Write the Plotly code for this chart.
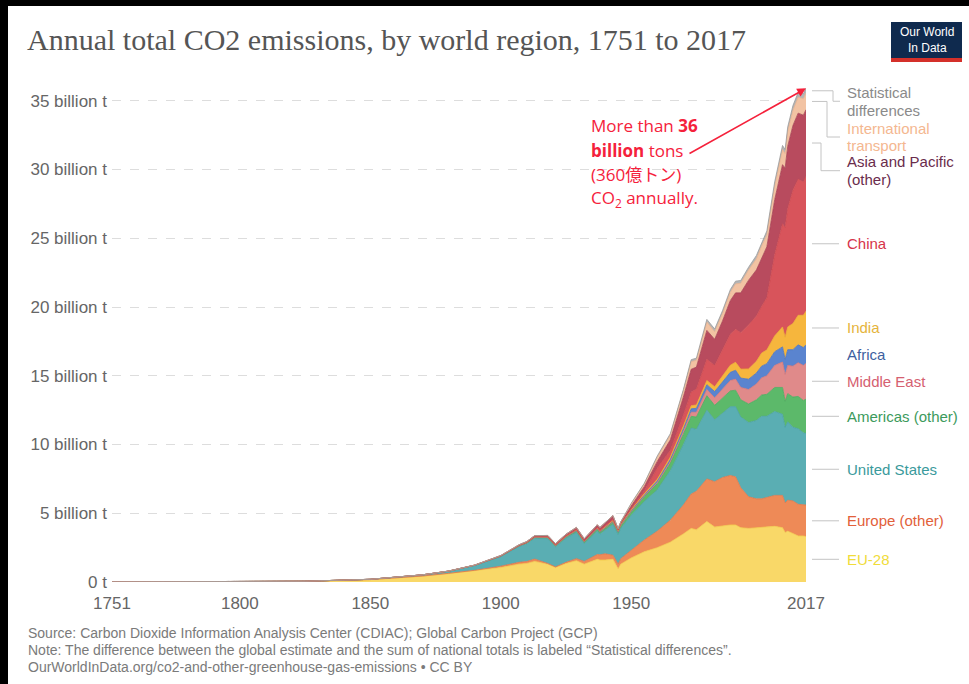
import plotly.graph_objects as go

# ---- data (billion tonnes CO2 per year) ----
YEARS = [1751, 1775, 1800, 1825, 1850, 1860, 1870, 1880, 1890, 1900,
         1907, 1910, 1913, 1918, 1921, 1925, 1929, 1932, 1937, 1938,
         1940, 1943, 1945, 1946, 1950, 1955, 1960, 1965, 1970, 1973,
         1975, 1979, 1982, 1985, 1988, 1990, 1992, 1995, 1998, 2000,
         2002, 2005, 2008, 2009, 2010, 2012, 2014, 2016, 2017]

EU28 = [0.009, 0.015, 0.028, 0.05, 0.17, 0.28, 0.42, 0.6, 0.8, 1.05,
        1.3, 1.35, 1.5, 1.3, 1.05, 1.35, 1.55, 1.3, 1.65, 1.6,
        1.6, 1.65, 0.95, 1.3, 1.75, 2.2, 2.5, 2.9, 3.5, 3.9,
        3.8, 4.4, 4.0, 4.1, 4.15, 4.15, 3.95, 3.9, 3.95, 3.95,
        4.0, 4.05, 3.95, 3.6, 3.7, 3.55, 3.35, 3.35, 3.3]
EUROPE_OTHER = [0.0, 0.0005, 0.001, 0.002, 0.005, 0.01, 0.015, 0.03, 0.05, 0.1,
                0.13, 0.14, 0.17, 0.05, 0.05, 0.08, 0.15, 0.2, 0.35, 0.38,
                0.45, 0.3, 0.35, 0.4, 0.55, 0.85, 1.2, 1.6, 2.1, 2.5,
                2.8, 3.1, 3.3, 3.5, 3.6, 3.5, 2.9, 2.3, 2.1, 2.1,
                2.15, 2.25, 2.35, 2.15, 2.25, 2.35, 2.3, 2.3, 2.3]
UNITED_STATES = [0.0, 0.0003, 0.001, 0.003, 0.02, 0.04, 0.08, 0.15, 0.35, 0.7,
                 1.15, 1.3, 1.5, 1.8, 1.45, 1.75, 1.9, 1.3, 1.7, 1.5,
                 1.7, 2.25, 2.15, 2.2, 2.55, 2.8, 3.0, 3.6, 4.4, 4.8,
                 4.5, 5.0, 4.5, 4.7, 5.0, 5.1, 5.15, 5.4, 5.7, 6.0,
                 5.9, 6.1, 5.9, 5.5, 5.7, 5.35, 5.5, 5.2, 5.2]
AMERICAS_OTHER = [0, 0, 0, 0, 0.001, 0.002, 0.004, 0.008, 0.015, 0.03,
                  0.05, 0.06, 0.08, 0.08, 0.08, 0.1, 0.13, 0.11, 0.15, 0.15,
                  0.16, 0.17, 0.18, 0.2, 0.25, 0.35, 0.45, 0.55, 0.75, 0.85,
                  0.9, 1.05, 1.05, 1.05, 1.15, 1.2, 1.25, 1.35, 1.5, 1.55,
                  1.6, 1.75, 1.95, 1.9, 2.05, 2.2, 2.35, 2.35, 2.5]
MIDDLE_EAST = [0, 0, 0, 0, 0, 0, 0, 0, 0, 0.0005,
               0.001, 0.001, 0.001, 0.001, 0.001, 0.002, 0.003, 0.003, 0.005, 0.005,
               0.006, 0.007, 0.01, 0.012, 0.03, 0.05, 0.08, 0.12, 0.2, 0.3,
               0.35, 0.45, 0.55, 0.65, 0.75, 0.8, 0.9, 1.05, 1.15, 1.25,
               1.35, 1.6, 1.85, 1.95, 2.05, 2.25, 2.45, 2.55, 2.6]
AFRICA = [0, 0, 0, 0, 0, 0, 0, 0.001, 0.002, 0.005,
          0.008, 0.01, 0.012, 0.014, 0.015, 0.018, 0.02, 0.02, 0.028, 0.03,
          0.032, 0.036, 0.04, 0.042, 0.05, 0.07, 0.12, 0.15, 0.2, 0.25,
          0.28, 0.35, 0.45, 0.55, 0.6, 0.65, 0.68, 0.75, 0.8, 0.85,
          0.88, 1.0, 1.1, 1.1, 1.15, 1.2, 1.3, 1.3, 1.35]
INDIA = [0, 0, 0, 0, 0, 0, 0.001, 0.003, 0.006, 0.01,
         0.013, 0.015, 0.02, 0.025, 0.025, 0.03, 0.035, 0.035, 0.04, 0.04,
         0.045, 0.045, 0.05, 0.05, 0.065, 0.09, 0.12, 0.17, 0.2, 0.22,
         0.25, 0.3, 0.35, 0.43, 0.52, 0.58, 0.65, 0.75, 0.85, 0.95,
         1.0, 1.15, 1.45, 1.6, 1.65, 1.9, 2.15, 2.35, 2.45]
CHINA = [0, 0, 0, 0, 0, 0, 0, 0, 0, 0.001,
         0.005, 0.01, 0.01, 0.015, 0.02, 0.025, 0.03, 0.03, 0.04, 0.04,
         0.07, 0.09, 0.05, 0.05, 0.08, 0.2, 0.8, 0.5, 0.8, 1.0,
         1.15, 1.55, 1.55, 1.95, 2.25, 2.4, 2.65, 3.2, 3.3, 3.4,
         3.8, 5.9, 7.5, 8.0, 8.6, 9.7, 9.9, 9.7, 9.8]
ASIA_PACIFIC_OTHER = [0, 0, 0, 0, 0.001, 0.002, 0.003, 0.005, 0.01, 0.03,
                      0.05, 0.06, 0.08, 0.1, 0.1, 0.12, 0.15, 0.15, 0.2, 0.22,
                      0.25, 0.28, 0.1, 0.12, 0.2, 0.32, 0.5, 0.75, 1.3, 1.65,
                      1.6, 2.1, 1.9, 2.05, 2.45, 2.65, 2.9, 3.25, 3.35, 3.55,
                      3.7, 4.0, 4.3, 4.3, 4.55, 4.7, 4.8, 4.85, 4.85]
INTL_TRANSPORT = [0, 0, 0, 0, 0, 0, 0, 0, 0, 0,
                  0, 0, 0, 0, 0, 0, 0, 0, 0, 0,
                  0, 0, 0, 0, 0.15, 0.2, 0.3, 0.35, 0.45, 0.55,
                  0.5, 0.6, 0.55, 0.55, 0.6, 0.65, 0.7, 0.75, 0.8, 0.85,
                  0.85, 1.0, 1.1, 1.05, 1.1, 1.1, 1.15, 1.2, 1.2]
STAT_DIFF = [0, 0, 0, 0, 0, 0, 0, 0, 0, 0,
             0, 0, 0, 0, 0, 0, 0, 0, 0, 0,
             0, 0, 0, 0, 0.05, 0.05, 0.1, 0.1, 0.1, 0.15,
             0.15, 0.2, 0.2, 0.2, 0.2, 0.2, 0.2, 0.2, 0.25, 0.25,
             0.3, 0.3, 0.3, 0.3, 0.3, 0.35, 0.35, 0.35, 0.35]

Y_TICKS = [0, 5, 10, 15, 20, 25, 30, 35]
Y_TICK_LABELS = ["0 t", "5 billion t", "10 billion t", "15 billion t",
                 "20 billion t", "25 billion t", "30 billion t", "35 billion t"]
X_TICKS = [1751, 1800, 1850, 1900, 1950, 2017]

# series, bottom to top: (name, values, fill, line, label colour)
SERIES = [
    ("EU-28", EU28, "#f9d868", "#f3cc4a", "#f0dc3a"),
    ("Europe (other)", EUROPE_OTHER, "#ee8a57", "#e57444", "#e2603a"),
    ("United States", UNITED_STATES, "#5aaeb3", "#46a0a5", "#3a9a9c"),
    ("Americas (other)", AMERICAS_OTHER, "#5cb96a", "#48a85a", "#3c9a5c"),
    ("Middle East", MIDDLE_EAST, "#e08a8a", "#d57575", "#d56070"),
    ("Africa", AFRICA, "#5a84cf", "#4a72bd", "#3e5fa0"),
    ("India", INDIA, "#f6b63d", "#eba92c", "#e5b43c"),
    ("China", CHINA, "#d8545b", "#cc464d", "#d6344a"),
    ("Asia and Pacific (other)", ASIA_PACIFIC_OTHER, "#b84b5e", "#a43f52", "#6a2c4c"),
    ("International transport", INTL_TRANSPORT, "#f2c3a3", "#eab08c", "#f4b790"),
    ("Statistical differences", STAT_DIFF, "#b5b5b5", "#9a9a9a", "#8a8a8a"),
]

# ---- canvas geometry (pixels) ----
W, H = 969, 684
PL, PR, PT, PB = 112, 806, 87, 582
Y_MAX = 36
PX_PER_UNIT = (PB - PT) / Y_MAX


def px(x):
    return (x - PL) / (PR - PL)


def py(y):
    return (PB - y) / (PB - PT)


fig = go.Figure()
for name, vals, fill, line, _ in SERIES:
    fig.add_trace(go.Scatter(
        x=YEARS, y=vals, name=name, mode="lines", stackgroup="one",
        fillcolor=fill, line=dict(color=line, width=0.8),
        hoverinfo="x+y+name",
    ))

annotations = []
shapes = []

# right-hand series labels with leader lines
cum = 0.0
mids = {}
for name, vals, _, _, _ in SERIES:
    mids[name] = cum + vals[-1] / 2
    cum += vals[-1]
total_last = cum

# two-line labels pushed down to avoid overlap:
# (first line, second line, first-line centre in data units, elbow px)
NUDGED = {
    "Statistical differences": ("Statistical", "differences", 35.6, 833),
    "International transport": ("International", "transport", 33.0, 827),
    "Asia and Pacific (other)": ("Asia and Pacific", "(other)", 30.55, 821),
}
LINE_GAP = 17.5 / PX_PER_UNIT
LINE_COL = "#c4c4c4"
LABEL_FONT = "Liberation Sans, Arial, sans-serif"


def add_label(text, y, colour):
    annotations.append(dict(
        xref="paper", yref="y", x=px(845), y=y, text=text, showarrow=False,
        xanchor="left", yanchor="middle", align="left",
        font=dict(family=LABEL_FONT, size=15, color=colour),
    ))


for name, vals, _, _, tcol in SERIES:
    ym = mids[name]
    if name in NUDGED:
        l1, l2, yl, xe = NUDGED[name]
        yc = yl - LINE_GAP / 2
        shapes.append(dict(type="line", xref="paper", yref="y", x0=px(812), x1=px(xe), y0=ym, y1=ym,
                           line=dict(color=LINE_COL, width=1)))
        shapes.append(dict(type="line", xref="paper", yref="y", x0=px(xe), x1=px(xe), y0=ym, y1=yc,
                           line=dict(color=LINE_COL, width=1)))
        shapes.append(dict(type="line", xref="paper", yref="y", x0=px(xe), x1=px(840), y0=yc, y1=yc,
                           line=dict(color=LINE_COL, width=1)))
        add_label(l1, yl, tcol)
        add_label(l2, yl - LINE_GAP, tcol)
    else:
        if name != "Africa":
            shapes.append(dict(type="line", xref="paper", yref="y", x0=px(812), x1=px(839), y0=ym, y1=ym,
                               line=dict(color=LINE_COL, width=1)))
        add_label(name, ym, tcol)

# title
annotations.append(dict(
    xref="paper", yref="paper", x=px(25), y=py(39), xanchor="left", yanchor="middle",
    text="Annual total CO2 emissions, by world region, 1751 to 2017", showarrow=False,
    font=dict(family="Liberation Serif, DejaVu Serif, serif", size=30, color="#555555"),
))

# logo
shapes.append(dict(type="rect", xref="paper", yref="paper", x0=px(891), x1=px(962), y0=py(22), y1=py(62),
                   fillcolor="#0f2a4e", line=dict(width=0), layer="above"))
shapes.append(dict(type="rect", xref="paper", yref="paper", x0=px(891), x1=px(962), y0=py(58), y1=py(62),
                   fillcolor="#d4302a", line=dict(width=0), layer="above"))
annotations.append(dict(
    xref="paper", yref="paper", x=px(926.5), y=py(40), xanchor="center", yanchor="middle",
    text="Our World<br>In Data", showarrow=False,
    font=dict(family="Liberation Sans Narrow, Liberation Sans, Arial, sans-serif", size=12, color="white"),
))

# footer notes
FOOT = [
    "Source: Carbon Dioxide Information Analysis Center (CDIAC); Global Carbon Project (GCP)",
    "Note: The difference between the global estimate and the sum of national totals is labeled \u201cStatistical differences\u201d.",
    "OurWorldInData.org/co2-and-other-greenhouse-gas-emissions \u2022 CC BY",
]
for i, line in enumerate(FOOT):
    annotations.append(dict(
        xref="paper", yref="paper", x=px(26), y=py(633 + 17 * i), xanchor="left", yanchor="middle",
        text=line, showarrow=False,
        font=dict(family="Liberation Sans, Arial, sans-serif", size=14, color="#7a7a7a"),
    ))

# red callout
RED = "#f5213b"
CALLOUT = ["More than <b>36</b>", "<b>billion</b> tons", "(360\u5104\u30c8\u30f3)", "CO<sub>2</sub> annually."]
for i, line in enumerate(CALLOUT):
    annotations.append(dict(
        xref="paper", yref="paper", x=px(589), y=py(126 + 24 * i), xanchor="left", yanchor="middle",
        text=line, showarrow=False,
        font=dict(family="Open Sans, Noto Sans CJK JP, sans-serif", size=17, color=RED),
    ))
annotations.append(dict(
    xref="x", yref="y", x=YEARS[-1], y=total_last, text="", showarrow=True,
    axref="pixel", ayref="pixel", ax=-118, ay=66,
    arrowhead=2, arrowsize=1.1, arrowwidth=1.6, arrowcolor=RED, standoff=0,
))

# black frame edges
shapes.append(dict(type="rect", xref="paper", yref="paper", x0=px(0), x1=px(W), y0=py(0), y1=py(6),
                   fillcolor="black", line=dict(width=0), layer="above"))
shapes.append(dict(type="rect", xref="paper", yref="paper", x0=px(0), x1=px(8), y0=py(0), y1=py(H),
                   fillcolor="black", line=dict(width=0), layer="above"))

AXIS_FONT = dict(family="Liberation Sans, Arial, sans-serif", size=17, color="#666666")
fig.update_layout(
    width=W, height=H,
    margin=dict(l=PL, r=W - PR, t=PT, b=H - PB),
    paper_bgcolor="white", plot_bgcolor="white",
    showlegend=False,
    annotations=annotations, shapes=shapes,
    xaxis=dict(range=[1751, 2017], tickvals=X_TICKS, ticktext=[str(v) for v in X_TICKS],
               showgrid=False, zeroline=False, showline=False, ticks="",
               ticklabelstandoff=9, tickfont=AXIS_FONT),
    yaxis=dict(range=[0, Y_MAX], tickvals=Y_TICKS, ticktext=Y_TICK_LABELS,
               showgrid=True, gridcolor="#dddddd", griddash="dash", gridwidth=1,
               zeroline=False, showline=False, ticks="", ticklabelstandoff=4,
               tickfont=AXIS_FONT),
)

fig.write_html("out.html")
